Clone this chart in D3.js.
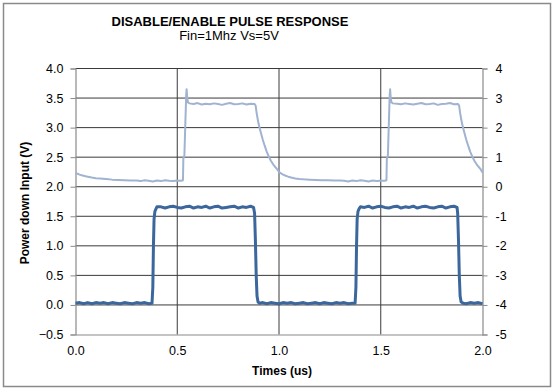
<!DOCTYPE html>
<html>
<head>
<meta charset="utf-8">
<script src="https://cdn.jsdelivr.net/npm/d3@7"></script>
<style>
  body { margin: 0; background: #fff; }
  svg text { font-family: "Liberation Sans", Arial, sans-serif; fill: #000; }
</style>
</head>
<body>
<div id="chart"></div>
<script>
// axis ticks
const leftTicks = [-0.5, 0, 0.5, 1, 1.5, 2, 2.5, 3, 3.5, 4];
const rightTicks = [-5, -4, -3, -2, -1, 0, 1, 2, 3, 4];
const timeTicks = [0, 0.5, 1, 1.5, 2];

// power down input (left axis, V)
const darkTime = [
  0.00,0.02,0.04,0.06,0.08,0.10,0.12,0.14,0.16,0.18,0.20,0.22,0.24,0.26,0.28,0.30,0.32,0.34,0.36,0.376,
  0.380,0.383,0.386,0.390,0.396,0.400,
  0.42,0.44,0.46,0.48,0.50,0.52,0.54,0.56,0.58,0.60,0.62,0.64,0.66,0.68,0.70,0.72,0.74,0.76,0.78,0.80,0.82,0.84,0.86,0.875,
  0.880,0.884,0.888,0.892,0.897,0.905,
  0.92,0.94,0.96,0.98,1.00,1.02,1.04,1.06,1.08,1.10,1.12,1.14,1.16,1.18,1.20,1.22,1.24,1.26,1.28,1.30,1.32,1.34,1.36,1.374,
  1.378,1.381,1.384,1.388,1.394,1.400,
  1.42,1.44,1.46,1.48,1.50,1.52,1.54,1.56,1.58,1.60,1.62,1.64,1.66,1.68,1.70,1.72,1.74,1.76,1.78,1.80,1.82,1.84,1.86,1.875,
  1.878,1.882,1.886,1.890,1.895,1.905,
  1.92,1.94,1.96,1.98,2.00
];
const darkVolts = [
  0.03,0.04,0.02,0.04,0.02,0.04,0.03,0.04,0.02,0.04,0.03,0.02,0.04,0.03,0.02,0.04,0.03,0.04,0.02,0.03,
  0.30,1.00,1.45,1.58,1.63,1.66,
  1.66,1.64,1.66,1.67,1.65,1.64,1.66,1.67,1.64,1.66,1.65,1.67,1.64,1.66,1.67,1.64,1.65,1.66,1.67,1.64,1.66,1.65,1.67,1.65,
  1.55,1.10,0.50,0.15,0.05,0.03,
  0.04,0.02,0.04,0.03,0.02,0.04,0.03,0.04,0.02,0.03,0.04,0.02,0.03,0.04,0.02,0.04,0.03,0.02,0.04,0.03,0.04,0.02,0.03,0.03,
  0.30,1.00,1.45,1.58,1.63,1.66,
  1.65,1.67,1.64,1.66,1.67,1.65,1.64,1.66,1.67,1.64,1.66,1.65,1.67,1.64,1.66,1.67,1.65,1.64,1.66,1.67,1.64,1.66,1.67,1.65,
  1.55,1.10,0.50,0.15,0.05,0.03,
  0.02,0.04,0.03,0.04,0.02
];

// output response (right axis)
const lightTime = [
  0.000,0.010,0.020,0.030,0.045,0.060,0.080,0.100,0.120,0.150,0.180,0.210,0.240,0.270,0.300,
  0.32,0.34,0.36,0.38,0.40,0.42,0.44,0.46,0.48,0.50,0.52,
  0.528,0.530,0.535,0.540,0.544,0.546,0.549,0.553,0.560,
  0.58,0.60,0.62,0.64,0.66,0.68,0.70,0.72,0.74,0.76,0.78,0.80,0.82,0.84,0.86,0.88,0.885,
  0.890,0.895,0.900,0.910,0.920,0.930,0.940,0.950,0.960,0.975,0.990,1.000,1.010,1.020,1.030,1.045,1.060,1.080,1.100,1.120,1.150,1.180,1.210,1.240,1.270,1.300,
  1.32,1.34,1.36,1.38,1.40,1.42,1.44,1.46,1.48,1.50,1.52,
  1.528,1.530,1.535,1.540,1.544,1.546,1.549,1.553,1.560,
  1.58,1.60,1.62,1.64,1.66,1.68,1.70,1.72,1.74,1.76,1.78,1.80,1.82,1.84,1.86,1.88,1.885,
  1.890,1.895,1.900,1.910,1.920,1.930,1.940,1.950,1.960,1.975,1.990,2.000
];
const lightVals = [
  0.46,0.44,0.41,0.39,0.36,0.34,0.31,0.29,0.28,0.26,0.24,0.23,0.22,0.21,0.21,
  0.19,0.22,0.20,0.18,0.21,0.19,0.22,0.20,0.19,0.21,0.20,
  0.22,0.95,1.05,2.20,3.10,3.30,3.00,2.85,2.82,
  2.80,2.83,2.78,2.81,2.79,2.82,2.80,2.77,2.81,2.83,2.79,2.80,2.82,2.78,2.81,2.80,2.75,
  2.50,2.30,2.12,1.85,1.60,1.38,1.18,1.02,0.88,0.72,0.60,0.50,0.45,0.41,0.38,0.34,0.31,0.28,0.26,0.25,0.24,0.23,0.22,0.22,0.21,0.21,
  0.20,0.18,0.21,0.19,0.22,0.20,0.18,0.21,0.19,0.20,0.20,
  0.22,0.95,1.05,2.20,3.10,3.30,3.00,2.85,2.82,
  2.81,2.79,2.82,2.80,2.78,2.81,2.83,2.79,2.80,2.82,2.77,2.80,2.81,2.83,2.79,2.80,2.75,
  2.50,2.30,2.12,1.85,1.60,1.38,1.18,1.02,0.88,0.72,0.60,0.48
];

const W = 554, H = 390;
const svg = d3.select("#chart").append("svg")
    .attr("width", W)
    .attr("height", H);

// cadre extérieur
svg.append("rect")
    .attr("x", 3.5).attr("y", 3.5)
    .attr("width", W - 7).attr("height", H - 7)
    .attr("fill", "#fff")
    .attr("stroke", "#8a8a8a")
    .attr("stroke-width", 1.5);

const x = d3.scaleLinear().domain([0, 2]).range([75.5, 482.5]);
const yL = d3.scaleLinear().domain([-0.5, 4]).range([334.5, 68.5]);
const yR = d3.scaleLinear().domain([-5, 4]).range([334.5, 68.5]);

// grille horizontale
svg.append("g")
    .selectAll("line")
    .data(leftTicks.filter(d => d > -0.5))
    .enter().append("line")
    .attr("x1", x(0)).attr("x2", x(2))
    .attr("y1", d => yL(d)).attr("y2", d => yL(d))
    .attr("stroke", "#3a3a3a")
    .attr("stroke-width", 1);

// grille verticale
svg.append("g")
    .selectAll("line")
    .data(timeTicks.filter(d => d > 0 && d < 2))
    .enter().append("line")
    .attr("x1", d => x(d)).attr("x2", d => x(d))
    .attr("y1", yL(4)).attr("y2", yL(-0.5))
    .attr("stroke", "#3a3a3a")
    .attr("stroke-width", 1);

// axes
const axLeft = svg.append("g")
    .attr("transform", "translate(" + x(0) + ",0)")
    .call(d3.axisLeft(yL).tickValues(leftTicks).tickFormat(d3.format(".1f")).tickSize(5).tickPadding(7));
const axRight = svg.append("g")
    .attr("transform", "translate(" + x(2) + ",0)")
    .call(d3.axisRight(yR).tickValues(rightTicks).tickFormat(d => d).tickSize(5).tickPadding(8));
const axBottom = svg.append("g")
    .attr("transform", "translate(0," + yL(-0.5) + ")")
    .call(d3.axisBottom(x).tickValues(timeTicks).tickFormat(d3.format(".1f")).tickSize(0).tickPadding(12));

[axLeft, axRight, axBottom].forEach(g => {
  g.select(".domain").attr("stroke", "#8a8a8a").attr("stroke-width", 1.2);
  g.selectAll(".tick line").attr("stroke", "#8a8a8a");
  g.selectAll(".tick text")
      .style("font-family", '"Liberation Sans", Arial, sans-serif')
      .style("font-size", "12.5px")
      .attr("fill", "#000");
});

// courbes
const lightLine = d3.line()
    .x(i => x(lightTime[i]))
    .y(i => yR(lightVals[i]));
svg.append("path")
    .attr("d", lightLine(d3.range(lightTime.length)))
    .attr("fill", "none")
    .attr("stroke", "#a0b3d1")
    .attr("stroke-width", 2)
    .attr("stroke-linejoin", "round");

const darkLine = d3.line()
    .x(i => x(darkTime[i]))
    .y(i => yL(darkVolts[i]));
svg.append("path")
    .attr("d", darkLine(d3.range(darkTime.length)))
    .attr("fill", "none")
    .attr("stroke", "#3c679c")
    .attr("stroke-width", 3)
    .attr("stroke-linejoin", "round");

// titres
svg.append("text")
    .attr("x", 230).attr("y", 26)
    .attr("text-anchor", "middle")
    .style("font-size", "13px")
    .style("font-weight", "bold")
    .text("DISABLE/ENABLE PULSE RESPONSE");
svg.append("text")
    .attr("x", 229).attr("y", 40)
    .attr("text-anchor", "middle")
    .style("font-size", "13px")
    .text("Fin=1Mhz Vs=5V");

svg.append("text")
    .attr("transform", "translate(29,203) rotate(-90)")
    .attr("text-anchor", "middle")
    .style("font-size", "12px")
    .style("font-weight", "bold")
    .text("Power down Input (V)");

svg.append("text")
    .attr("x", 282).attr("y", 375)
    .attr("text-anchor", "middle")
    .style("font-size", "12px")
    .style("font-weight", "bold")
    .text("Times (us)");
</script>
</body>
</html>
